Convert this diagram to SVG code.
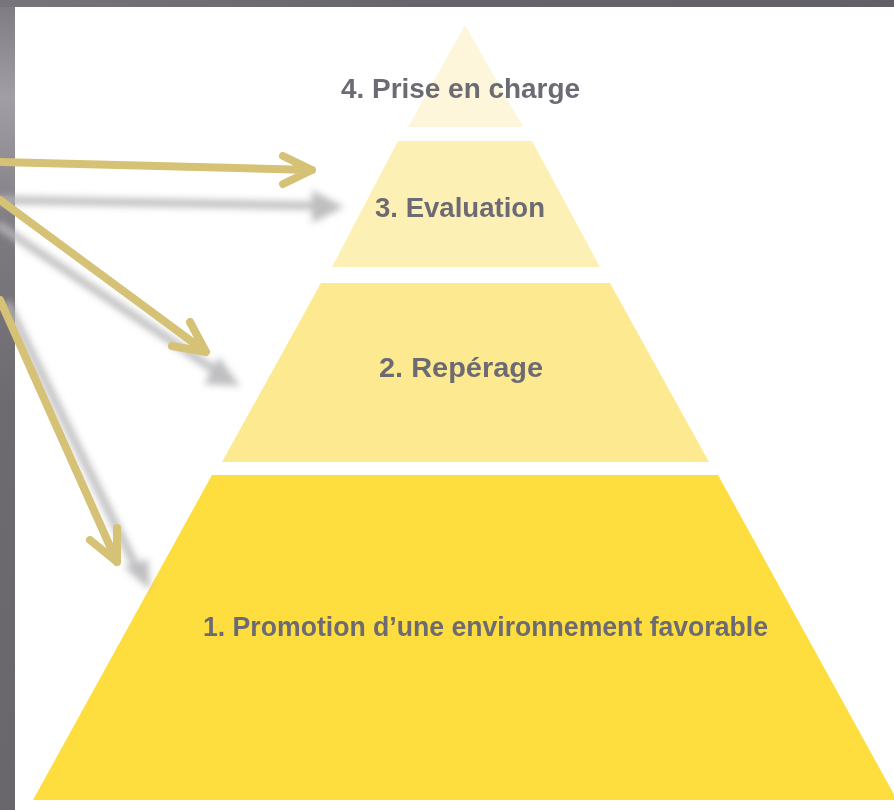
<svg xmlns="http://www.w3.org/2000/svg" width="894" height="810" viewBox="0 0 894 810">
  <defs>
    <linearGradient id="bgStrip" x1="0" y1="0" x2="0" y2="1">
      <stop offset="0" stop-color="#7c7980"/>
      <stop offset="0.12" stop-color="#a19ea5"/>
      <stop offset="0.3" stop-color="#7b787e"/>
      <stop offset="0.5" stop-color="#6d6a70"/>
      <stop offset="1" stop-color="#69676b"/>
    </linearGradient>
    <linearGradient id="bgTop" x1="0" y1="0" x2="1" y2="0">
      <stop offset="0" stop-color="#77747a"/>
      <stop offset="0.5" stop-color="#66636a"/>
      <stop offset="1" stop-color="#625f66"/>
    </linearGradient>
    <filter id="blur" x="-20%" y="-20%" width="140%" height="140%">
      <feGaussianBlur stdDeviation="3.5"/>
    </filter>
    <filter id="tshadow" x="-5%" y="-20%" width="110%" height="140%">
      <feGaussianBlur stdDeviation="0.6"/>
    </filter>
  </defs>
  <style>
    .gold { stroke: #d6c276; stroke-width: 8; fill: none; stroke-linecap: round; stroke-linejoin: round; }
    .shadow { stroke: #b8b8ba; stroke-width: 8; fill: none; stroke-linecap: round; }
    .shead { fill: #b8b8ba; stroke: none; }
    .lbl { font-family: "Liberation Sans", Arial, sans-serif; font-weight: bold; fill: #6c6b73; font-size: 27px; }
  </style>

  <!-- background -->
  <rect x="0" y="0" width="894" height="810" fill="#69676b"/>
  <rect x="0" y="0" width="15" height="810" fill="url(#bgStrip)"/>
  <rect x="0" y="0" width="894" height="7" fill="url(#bgTop)"/>
  <rect x="15" y="7" width="879" height="803" fill="#ffffff"/>

  <!-- pyramid tiers -->
  <g id="tier1">
    <polygon points="212,475 718,475 897,800 33,800" fill="#fedd3f"/>
  </g>
  <g id="tier2">
    <polygon points="321,283 610,283 709,462 222,462" fill="#fde98f"/>
  </g>
  <g id="tier3">
    <polygon points="398,141 532,141 600,267 332,267" fill="#fdf0b4"/>
  </g>
  <g id="tier4">
    <polygon points="465,25 523,127 408,127" fill="#fdf6da"/>
  </g>

  <!-- connectors -->
  <g id="connectors">
    <g filter="url(#blur)" opacity="0.9">
      <path class="shadow" d="M0,200 L330,206"/>
      <polygon class="shead" points="312,190 344,207 312,223"/>
      <path class="shadow" d="M0,226 L225,377"/>
      <polygon class="shead" points="204,384 219,357 240,386"/>
      <path class="shadow" d="M8,305 L140,575"/>
      <polygon class="shead" points="124,567 148,559 150,590"/>
    </g>
    <path class="gold" d="M0,162 L312,170 M283,156 L312,170 L283,184"/>
    <path class="gold" d="M0,200 L206,352 M190,322 L206,352 L172,346"/>
    <path class="gold" d="M0,300 L117,562 M117,528 L117,562 L90,540"/>
  </g>

  <!-- labels -->
  <g id="labels">
    <g filter="url(#tshadow)">
      <text class="lbl" x="341" y="98" textLength="239" lengthAdjust="spacingAndGlyphs">4. Prise en charge</text>
      <text class="lbl" x="375" y="217" textLength="170" lengthAdjust="spacingAndGlyphs">3. Evaluation</text>
      <text class="lbl" x="379" y="377" textLength="164" lengthAdjust="spacingAndGlyphs">2. Repérage</text>
      <text class="lbl" x="203" y="636" textLength="565" lengthAdjust="spacingAndGlyphs">1. Promotion d’une environnement favorable</text>
    </g>
  </g>
</svg>
